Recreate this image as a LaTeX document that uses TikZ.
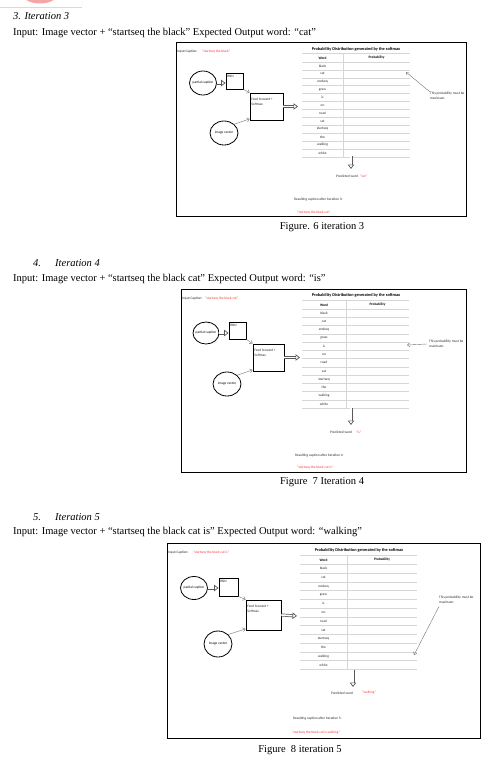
\documentclass[tikz,border=0pt]{standalone}
\usepackage{fontspec}
\setmainfont{Liberation Serif}
\newfontfamily\calfont{Carlito}
\usetikzlibrary{arrows.meta,shapes.geometric}

\definecolor{capred}{HTML}{F23A3A}
\definecolor{rulegray}{HTML}{D6D6D6}
\definecolor{logopink}{HTML}{F4A6A6}
\newcommand{\wordlist}{black,cat,endseq,grass,is,on,road,sat,startseq,the,walking,white}
\newcommand{\smallfont}{\calfont\fontsize{3.5}{4.6}\selectfont}

\begin{document}
\begin{tikzpicture}[x=1pt,y=-1pt,
    body/.style={anchor=base west,inner sep=0pt,font=\fontsize{10.5}{12}\selectfont},
    head/.style={body,font=\fontsize{10.5}{12}\selectfont\itshape},
    figcap/.style={anchor=base,inner sep=0pt,font=\fontsize{10.5}{12}\selectfont},
    frame/.style={draw=black,line width=0.9pt},
    lbl/.style={inner sep=0pt,font=\smallfont,text=black!85},
    redlbl/.style={lbl,text=capred},
    ttl/.style={inner sep=0pt,font=\calfont\bfseries\fontsize{4.3}{5}\selectfont},
    hd/.style={inner sep=0pt,font=\calfont\bfseries\fontsize{3.5}{4.4}\selectfont},
    bubble/.style={draw,ellipse,line width=0.8pt,inner sep=0pt,font=\smallfont},
    unit/.style={draw,line width=0.8pt,inner sep=0pt},
    thin/.style={draw=black!55,line width=0.4pt,-{Straight Barb[length=2.5pt,width=4pt]}},
    hollow/.style={draw=black!65,line width=0.7pt,double=white,double distance=1.6pt,
        -{Triangle[open,length=4.5pt,width=6.5pt]}},
    rowline/.style={draw=rulegray,line width=0.4pt}]
  \useasboundingbox (0,0) rectangle (499,761);

  % logo fragment at the top
  \begin{scope}
    \clip (0,0) rectangle (82,7);
    \fill[logopink] (40,-5) ellipse (17 and 8.5);
    \draw[black!15,line width=0.4pt] (82,0) -- (82,7) -- (0,7);
  \end{scope}

  % ---- iteration 3
  \node[head] (h3) at (13,19) {3. Iteration 3};
  \node[body] (inp3) at (13,35.5) {Input: Image vector + “startseq the black” Expected Output word: “cat”};
  \begin{scope}
    \clip (176,42) rectangle (466,216);
    \node[lbl,anchor=west] (ic6) at (177,52) {Input Caption:};
    \node[redlbl,anchor=west] (icr6) at (202,52) {“startseq the black”};
    \node[bubble,minimum width=27pt,minimum height=24pt] (pc6) at (203,83) {\makebox[0pt]{partial caption}};
    \node[unit,minimum width=17pt,minimum height=16pt] (rnn6) at (234.5,81) {};
    \node[lbl,anchor=north west] (rnnt6) at ([xshift=1.5pt,yshift=-2pt]rnn6.north west) {RNN};
    \node[unit,minimum width=33pt,minimum height=27pt] (ff6) at (266.5,106.5) {};
    \node[lbl,anchor=north west,align=left] (fft6) at ([xshift=1.5pt,yshift=-5.5pt]ff6.north west) {Feed forward +\\Softmax};
    \node[bubble,minimum width=28pt,minimum height=24pt] (iv6) at (224,133) {\makebox[0pt]{image vector}};
    \coordinate (out6) at (298,106.5);
    \draw[hollow] (pc6.east) -- (pc6.east -| rnn6.west);
    \draw[thin] (rnn6.south east) -- (ff6.north west);
    \draw[thin] (iv6.north east) -- ([yshift=1.5pt]ff6.south west);
    \draw[hollow] (ff6.east) -- (out6);
    % table
    \node[ttl] (title6) at (356,49) {Probability Distribution generated by the softmax};
    \node[hd] (wordhd6) at (322.5,58) {Word};
    \node[hd] (probhd6) at (376.5,58) {Probability};
    \draw[rowline] (302,53) -- (410,53);
    \foreach \w [count=\i] in \wordlist {
      \node[lbl] (w6-\i) at (322.5,{58+\i*7.9}) {\w};
      \draw[rowline] (302,{58+(\i-0.5)*7.9}) -- (410,{58+(\i-0.5)*7.9});
    }
    \draw[rowline] (302,{58+12.5*7.9}) -- (410,{58+12.5*7.9});
    \draw[rowline] (343,53) -- (343,{58+12.5*7.9});
    \node[lbl,anchor=north west,align=left] (note6) at (430,92) {This probability must be\\maximum.};
    \coordinate (hit6) at (406,72);
    \draw[thin] (note6.north west) -- (hit6);
    \coordinate (dn6a) at (351,156);
    \coordinate (dn6b) at (351,169);
    \draw[hollow] (dn6a) -- (dn6b);
    \node[lbl,anchor=west] (pw6) at (336,176) {Predicted word};
    \node[redlbl,anchor=west] (pwr6) at (360,176) {“cat”};
    \node[lbl,anchor=west] (rc6) at (294,200) {Resulting caption after iteration 3:};
    \node[redlbl,anchor=west] (rcr6) at (297,213) {“startseq the black cat”};
  \end{scope}
  \draw[frame] (176,42) rectangle (466,216);
  \node[figcap] (cap6) at (322,229.5) {Figure. 6 iteration 3};

  % ---- iteration 4
  \node[head] (h4) at (33,266) {\makebox[22pt][l]{4.}Iteration 4};
  \node[body] (inp4) at (13,281) {Input: Image vector + “startseq the black cat” Expected Output word: “is”};
  \begin{scope}
    \clip (181,289) rectangle (466,472);
    \node[lbl,anchor=west] (ic7) at (182,299) {Input Caption:};
    \node[redlbl,anchor=west] (icr7) at (205,299) {“startseq the black cat”};
    \node[bubble,minimum width=26pt,minimum height=22pt] (pc7) at (206,333) {\makebox[0pt]{partial caption}};
    \node[unit,minimum width=17pt,minimum height=17pt] (rnn7) at (237.5,330.5) {};
    \node[lbl,anchor=north west] (rnnt7) at ([xshift=1.5pt,yshift=-2pt]rnn7.north west) {RNN};
    \node[unit,minimum width=31pt,minimum height=27pt] (ff7) at (268.5,357.5) {};
    \node[lbl,anchor=north west,align=left] (fft7) at ([xshift=1.5pt,yshift=-5.5pt]ff7.north west) {Feed forward +\\Softmax};
    \node[bubble,minimum width=28pt,minimum height=24pt] (iv7) at (227,384) {\makebox[0pt]{image vector}};
    \coordinate (out7) at (300,357.5);
    \draw[hollow] (pc7.east) -- (pc7.east -| rnn7.west);
    \draw[thin] (rnn7.south east) -- (ff7.north west);
    \draw[thin] (iv7.north east) -- ([yshift=1.5pt]ff7.south west);
    \draw[hollow] (ff7.east) -- (out7);
    % table
    \node[ttl] (title7) at (356,295) {Probability Distribution generated by the softmax};
    \node[hd] (wordhd7) at (324,305) {Word};
    \node[hd] (probhd7) at (377.5,305) {Probability};
    \draw[rowline] (302,300) -- (409,300);
    \foreach \w [count=\i] in \wordlist {
      \node[lbl] (w7-\i) at (324,{305+\i*8.25}) {\w};
      \draw[rowline] (302,{305+(\i-0.5)*8.25}) -- (409,{305+(\i-0.5)*8.25});
    }
    \draw[rowline] (302,{305+12.5*8.25}) -- (409,{305+12.5*8.25});
    \draw[rowline] (346,300) -- (346,{305+12.5*8.25});
    \node[lbl,anchor=west,align=left] (note7) at (429,344) {This probability must be\\maximum.};
    \coordinate (hit7) at (407,345);
    \draw[thin] ([xshift=-2pt]note7.west) -- (hit7);
    \coordinate (dn7a) at (351,408);
    \coordinate (dn7b) at (351,425);
    \draw[hollow] (dn7a) -- (dn7b);
    \node[lbl,anchor=west] (pw7) at (330,432) {Predicted word};
    \node[redlbl,anchor=west] (pwr7) at (356,432) {“is”};
    \node[lbl,anchor=west] (rc7) at (295,456) {Resulting caption after iteration 4:};
    \node[redlbl,anchor=west] (rcr7) at (297,468) {“startseq the black cat is”};
  \end{scope}
  \draw[frame] (181,289) rectangle (466,472);
  \node[figcap] (cap7) at (322,484.5) {Figure\ \ 7 Iteration 4};

  % ---- iteration 5
  \node[head] (h5) at (33,520.5) {\makebox[22pt][l]{5.}Iteration 5};
  \node[body] (inp5) at (13,534.5) {Input: Image vector + “startseq the black cat is” Expected Output word: “walking”};
  \begin{scope}
    \clip (167,543) rectangle (480,738);
    \node[lbl,anchor=west] (ic8) at (168,553) {Input Caption:};
    \node[redlbl,anchor=west] (icr8) at (193,553) {“startseq the black cat is”};
    \node[bubble,minimum width=27pt,minimum height=23pt] (pc8) at (194,588) {\makebox[0pt]{partial caption}};
    \node[unit,minimum width=19pt,minimum height=18pt] (rnn8) at (228.5,587) {};
    \node[lbl,anchor=north west] (rnnt8) at ([xshift=1.5pt,yshift=-2pt]rnn8.north west) {RNN};
    \node[unit,minimum width=35pt,minimum height=30pt] (ff8) at (263.5,615) {};
    \node[lbl,anchor=north west,align=left] (fft8) at ([xshift=1.5pt,yshift=-5.5pt]ff8.north west) {Feed forward +\\Softmax};
    \node[bubble,minimum width=28pt,minimum height=26pt] (iv8) at (218,644) {\makebox[0pt]{image vector}};
    \coordinate (out8) at (297,616);
    \draw[hollow] (pc8.east) -- (pc8.east -| rnn8.west);
    \draw[thin] (rnn8.south east) -- (ff8.north west);
    \draw[thin] (iv8.north east) -- ([yshift=1.5pt]ff8.south west);
    \draw[hollow] (ff8.east) -- (out8);
    % table
    \node[ttl] (title8) at (359,550) {Probability Distribution generated by the softmax};
    \node[hd] (wordhd8) at (323.5,560) {Word};
    \node[hd] (probhd8) at (382,560) {Probability};
    \draw[rowline] (300,555) -- (417,555);
    \foreach \w [count=\i] in \wordlist {
      \node[lbl] (w8-\i) at (323.5,{560+\i*8.75}) {\w};
      \draw[rowline] (300,{560+(\i-0.5)*8.75}) -- (417,{560+(\i-0.5)*8.75});
    }
    \draw[rowline] (300,{560+12.5*8.75}) -- (417,{560+12.5*8.75});
    \draw[rowline] (347,555) -- (347,{560+12.5*8.75});
    \node[lbl,anchor=north west,align=left] (note8) at (439,596) {This probability must be\\maximum.};
    \coordinate (hit8) at (414,655);
    \draw[thin] ([yshift=-3pt]note8.south west) -- (hit8);
    \coordinate (dn8a) at (353,670);
    \coordinate (dn8b) at (353,687);
    \draw[hollow] (dn8a) -- (dn8b);
    \node[lbl,anchor=west] (pw8) at (331,693) {Predicted word};
    \node[redlbl,anchor=west] (pwr8) at (362,693) {“walking”};
    \node[lbl,anchor=west] (rc8) at (293,719) {Resulting caption after iteration 5:};
    \node[redlbl,anchor=west] (rcr8) at (292,733) {“startseq the black cat is walking”};
  \end{scope}
  \draw[frame] (167,543) rectangle (480,738);
  \node[figcap] (cap8) at (300,752.5) {Figure\ \ 8 iteration 5};
\end{tikzpicture}
\end{document}
